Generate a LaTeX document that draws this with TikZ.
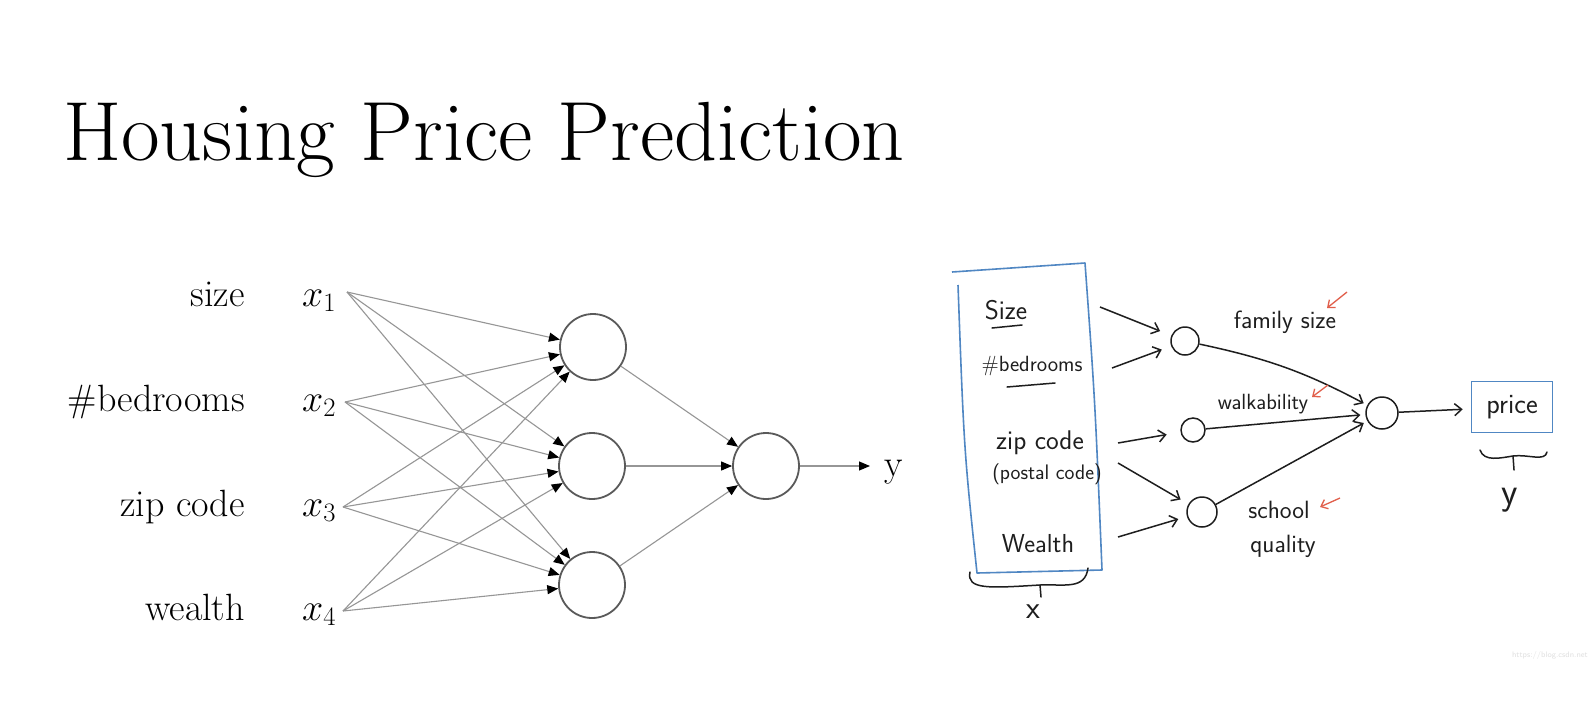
\RequirePackage{fix-cm}
\documentclass[tikz,border=0pt]{standalone}
\usetikzlibrary{arrows.meta}
\definecolor{boxblue}{RGB}{80,135,195}
\definecolor{redarr}{RGB}{225,95,75}
\definecolor{linegray}{RGB}{150,150,150}
\definecolor{circgray}{RGB}{90,90,90}
\definecolor{ink}{RGB}{30,30,30}
\begin{document}
\begin{tikzpicture}[x=1pt,y=-1pt,
  neuron/.style={circle,draw=circgray,line width=1.8pt,minimum size=66pt,inner sep=0pt},
  conn/.style={draw=linegray,line width=1.1pt,-{Triangle[length=11pt,width=9pt,color=black]}},
  lab/.style={font=\fontsize{38}{40}\selectfont,inner sep=0pt,anchor=base east},
  xlab/.style={font=\fontsize{38}{40}\selectfont,inner sep=0pt,anchor=base west},
  hw/.style={font=\sffamily\fontsize{#1}{#1}\selectfont,inner sep=0pt,text=ink},
  hcirc/.style={circle,draw=ink,line width=1.5pt,inner sep=0pt,minimum size=#1},
  harr/.style={draw=ink,line width=1.5pt,-{Straight Barb[length=7pt,width=12pt]}},
  rarr/.style={draw=redarr,line width=1.3pt,-{Straight Barb[length=6pt,width=10pt]}},
  hline/.style={draw=ink,line width=1.5pt,line cap=round}
]
\useasboundingbox[fill=white] (0,0) rectangle (1592,721);

% title
\node[font=\fontsize{84}{94}\selectfont,inner sep=0pt,anchor=base west] (title) at (63,160) {Housing Price Prediction};

% ---------- left network ----------
\node[lab] (ls) at (245,306) {size};
\node[lab] (lb) at (245,411) {\#bedrooms};
\node[lab] (lz) at (245,516) {zip code};
\node[lab] (lw) at (245,620) {wealth};
\node[xlab] (x1) at (302,306) {$x_1$};
\node[xlab] (x2) at (302,411) {$x_2$};
\node[xlab] (x3) at (302,516) {$x_3$};
\node[xlab] (x4) at (302,620) {$x_4$};
\coordinate (a1) at (347,292);
\coordinate (a2) at (345,402);
\coordinate (a3) at (343,507);
\coordinate (a4) at (343,611);

\node[neuron] (h1) at (593,347) {};
\node[neuron] (h2) at (592,466) {};
\node[neuron] (h3) at (592,585) {};
\node[neuron] (o) at (766,466) {};

\foreach \i in {1,2,3,4}{
  \foreach \j in {1,2,3}{
    \draw[conn] (a\i) -- (h\j);
  }
}
\foreach \j in {1,2,3}{
  \draw[conn] (h\j) -- (o);
}
\coordinate (yend) at (870,466);
\draw[conn] (o) -- (yend);
\node[xlab] (ylab) at (884,476) {y};

% ---------- right handwritten sketch ----------
\coordinate (b1) at (952,272);
\coordinate (b2) at (1085,263);
\coordinate (b3) at (1102,570);
\coordinate (b4) at (977,573);
\coordinate (b5) at (958,285);
\draw[boxblue,line width=1.6pt,line join=round] (b1) -- (b2) .. controls (1095,400) .. (b3) -- (b4) .. controls (964,450) .. (b5);

\node[hw=27] (rsize) at (1006,310) {Size};
\draw[hline] (992,328) -- (1022,325);
\node[hw=22] (rbed) at (1032,366) {\#bedrooms};
\draw[hline] (1007,387) -- (1055,383);
\node[hw=27] (rzip) at (1040,443) {zip code};
\node[hw=21] (rpostal) at (1047,474) {(postal code)};
\node[hw=26] (rwealth) at (1038,544) {Wealth};

% brace under the input box
\draw[hline] (970,572) .. controls (966,590) and (990,588) .. (1040,585)
  .. controls (1065,584) and (1085,590) .. (1088,568);
\draw[hline] (1040,585) -- (1041,597);
\node[hw=32] (rx) at (1033,612) {x};

% hidden units
\node[hcirc=28pt] (g1) at (1185,341) {};
\node[hcirc=24pt] (g2) at (1193,430) {};
\node[hcirc=30pt] (g3) at (1202,512) {};
\node[hcirc=32pt] (go) at (1382,413) {};

\coordinate (s1) at (1100,307);
\coordinate (s2) at (1112,368);
\coordinate (s3) at (1118,443);
\coordinate (s4) at (1118,463);
\coordinate (s5) at (1118,537);
\draw[harr,shorten >=12pt] (s1) -- (g1);
\draw[harr,shorten >=10pt] (s2) -- (g1);
\draw[harr,shorten >=14pt] (s3) -- (g2);
\draw[harr,shorten >=9pt] (s4) -- (g3);
\draw[harr,shorten >=9pt] (s5) -- (g3);

\draw[harr,shorten >=4pt] (g1) to[bend left=8] (go);
\draw[harr,shorten >=5pt] (g2) -- (go);
\draw[harr,shorten >=4pt] (g3) -- (go);

\node[hw=25] (lfam) at (1285,322) {family size};
\node[hw=22] (lwalk) at (1263,404) {walkability};
\node[hw=25] (lschool) at (1279,510) {school};
\node[hw=25] (lqual) at (1283,546) {quality};

% red markers
\coordinate (r1a) at (1347,292); \coordinate (r1b) at (1327,308);
\coordinate (r2a) at (1328,385); \coordinate (r2b) at (1312,397);
\coordinate (r3a) at (1340,498); \coordinate (r3b) at (1320,507);
\draw[rarr] (r1a) -- (r1b);
\draw[rarr] (r2a) -- (r2b);
\draw[rarr] (r3a) -- (r3b);

% output
\node[draw=boxblue,line width=1.6pt,minimum width=81pt,minimum height=51pt,inner sep=0pt,hw=28] (price) at (1512,407) {price};
\draw[harr,shorten >=8pt] (go) -- (price);
\draw[hline] (1480,450) .. controls (1484,462) and (1500,458) .. (1513,456)
  .. controls (1528,454) and (1545,462) .. (1547,452);
\draw[hline] (1513,456) -- (1514,470);
\node[hw=38] (ry) at (1510,500) {y};

% watermark
\node[font=\sffamily\fontsize{8}{8}\selectfont,text=black!12,anchor=base east,inner sep=0pt] (wm) at (1588,657) {https://blog.csdn.net};
\end{tikzpicture}
\end{document}
